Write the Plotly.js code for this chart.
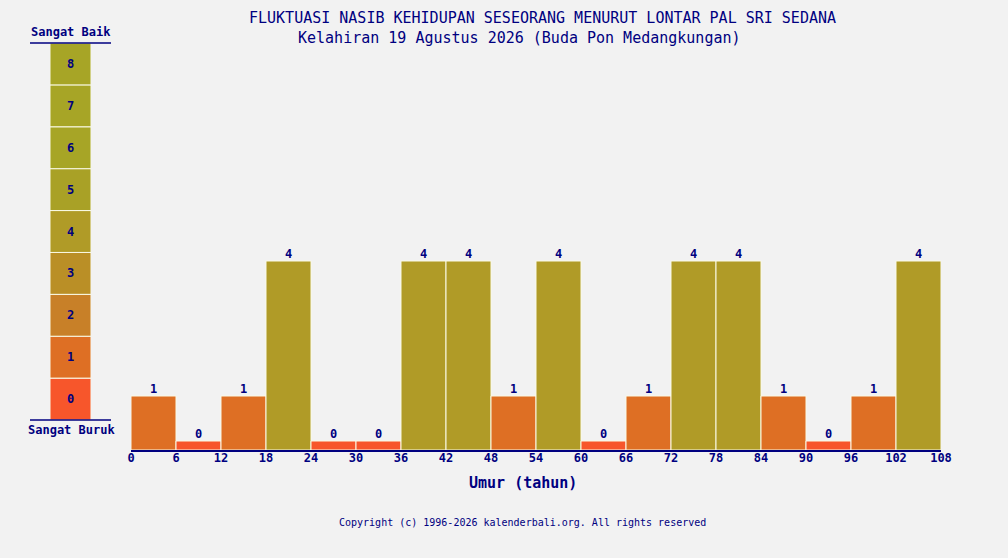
<!DOCTYPE html>
<html><head><meta charset="utf-8">
<script src="https://cdn.plot.ly/plotly-3.0.1.min.js"></script>
<style>html,body{margin:0;padding:0;background:#F2F2F2;}#chart{width:1008px;height:558px;}</style>
</head><body><div id="chart"></div>
<script>
// Data
const periodStart = [0,6,12,18,24,30,36,42,48,54,60,66,72,78,84,90,96,102];
const periodValues = [1,0,1,4,0,0,4,4,1,4,0,1,4,4,1,0,1,4];
const tickLabels = [0,6,12,18,24,30,36,42,48,54,60,66,72,78,84,90,96,102,108];
const scaleLevels = [0,1,2,3,4,5,6,7,8];
const levelColors = ['#F7562B','#DE6F24','#C88028','#BA8F26','#B09B27','#A9A126','#A7A526','#A7A526','#A7A526'];
const titleLine1 = 'FLUKTUASI NASIB KEHIDUPAN SESEORANG MENURUT LONTAR PAL SRI SEDANA';
const titleLine2 = 'Kelahiran 19 Agustus 2026 (Buda Pon Medangkungan)';

const W = 1008, H = 558;
const px = x => x / W;
const py = y => (H - y) / H;
const NAVY = '#000080';
const FONT = 'DejaVu Sans Mono, Liberation Mono, monospace';
const BASE_OFFSET = 0.2; // visible stub for zero values

const mainTrace = {
  type: 'bar',
  x: periodStart.map(s => s + 3),
  y: periodValues.map(v => v + BASE_OFFSET),
  width: periodStart.map(() => 6),
  marker: {color: periodValues.map(v => levelColors[v]), line: {color: '#FAFAE6', width: 1}},
  hoverinfo: 'skip',
  xaxis: 'x', yaxis: 'y'
};

const labelTrace = {
  type: 'scatter',
  mode: 'text',
  x: periodStart.map(s => s + 3),
  y: periodValues.map(v => v + BASE_OFFSET),
  text: periodValues.map(String),
  textposition: 'top center',
  cliponaxis: false,
  textfont: {family: FONT, size: 12, color: NAVY, weight: 'bold'},
  hoverinfo: 'skip',
  xaxis: 'x', yaxis: 'y'
};

const scaleTrace = {
  type: 'bar',
  x: scaleLevels.map(() => 0),
  y: scaleLevels.map(() => 1),
  base: scaleLevels,
  width: scaleLevels.map(() => 1),
  text: scaleLevels.map(String),
  textposition: 'inside',
  insidetextanchor: 'middle',
  textangle: 0,
  constraintext: 'none',
  textfont: {family: FONT, size: 12, color: NAVY, weight: 'bold'},
  marker: {color: levelColors, line: {color: '#FAFAE6', width: 1}},
  hoverinfo: 'skip',
  xaxis: 'x2', yaxis: 'y2'
};

const layout = {
  width: W, height: H,
  margin: {l:0, r:0, t:0, b:0},
  paper_bgcolor: '#F2F2F2',
  plot_bgcolor: '#F2F2F2',
  showlegend: false,
  bargap: 0,
  barmode: 'overlay',
  xaxis: {
    domain: [px(131), px(941)],
    range: [0, 108],
    tickvals: tickLabels,
    ticktext: tickLabels.map(String),
    ticks: '',
    ticklabelstandoff: -4,
    showgrid: false, zeroline: false,
    showline: true, linecolor: NAVY, linewidth: 1.5,
    tickfont: {family: FONT, size: 12, color: NAVY, weight: 'bold'},
    fixedrange: true
  },
  yaxis: {
    domain: [py(450), py(45)],
    range: [0, 9],
    visible: false,
    fixedrange: true
  },
  xaxis2: {
    domain: [px(50), px(91)],
    range: [-0.5, 0.5],
    visible: false,
    anchor: 'y2'
  },
  yaxis2: {
    domain: [py(420), py(43)],
    range: [0, 9],
    visible: false,
    anchor: 'x2'
  },
  shapes: [
    {type:'line', xref:'paper', yref:'paper', x0:px(30), x1:px(111), y0:py(43), y1:py(43), line:{color:NAVY, width:1.5}},
    {type:'line', xref:'paper', yref:'paper', x0:px(30), x1:px(111), y0:py(420), y1:py(420), line:{color:NAVY, width:1.5}}
  ],
  annotations: [
    {xref:'paper', yref:'paper', x:px(542), y:py(18), text:titleLine1, showarrow:false, xanchor:'center', yanchor:'middle', font:{family:FONT, size:15, color:NAVY}},
    {xref:'paper', yref:'paper', x:px(519), y:py(38), text:titleLine2, showarrow:false, xanchor:'center', yanchor:'middle', font:{family:FONT, size:15, color:NAVY}},
    {xref:'paper', yref:'paper', x:px(71), y:py(32), text:'Sangat Baik', showarrow:false, xanchor:'center', yanchor:'middle', font:{family:FONT, size:12, color:NAVY, weight:'bold'}},
    {xref:'paper', yref:'paper', x:px(71), y:py(430), text:'Sangat Buruk', showarrow:false, xanchor:'center', yanchor:'middle', font:{family:FONT, size:12, color:NAVY, weight:'bold'}},
    {xref:'paper', yref:'paper', x:px(523), y:py(483), text:'Umur (tahun)', showarrow:false, xanchor:'center', yanchor:'middle', font:{family:FONT, size:15, color:NAVY, weight:'bold'}},
    {xref:'paper', yref:'paper', x:px(522), y:py(522), text:'Copyright (c) 1996-2026 kalenderbali.org. All rights reserved', showarrow:false, xanchor:'center', yanchor:'middle', font:{family:FONT, size:10, color:NAVY}}
  ]
};

Plotly.newPlot('chart', [mainTrace, labelTrace, scaleTrace], layout, {staticPlot: true, displayModeBar: false});
</script>
</body></html>
